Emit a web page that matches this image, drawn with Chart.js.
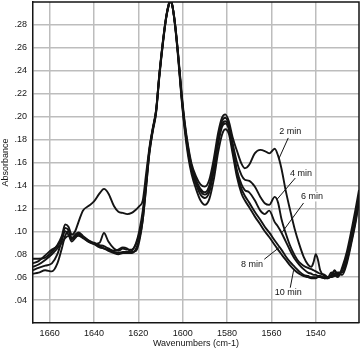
<!DOCTYPE html>
<html>
<head>
<meta charset="utf-8">
<script src="https://cdn.jsdelivr.net/npm/chart.js@4.4.1/dist/chart.umd.min.js"></script>
<style>
html,body{margin:0;padding:0;background:#fff;}
canvas{display:block;}
</style>
</head>
<body>
<canvas id="chart" width="360" height="352"></canvas>
<script>
// ---------------- Dados ----------------
const wavenumbers = [
  1667.5,1665,1662,1659,1656.5,1654.5,1653,1651.5,1650,1648.5,
  1647,1645,1642.5,1640,1637.5,1635.5,1633.5,1631,1629,1627,
  1625,1623,1621,1619.5,1618,1616.5,1615,1613.5,1612,1610.5,
  1609,1607.5,1606.3,1605.6,1604.8,1603.5,1602,1600.5,1599,1597.5,
  1596,1594,1592,1590,1588,1586,1584,1582.3,1580.8,1579.2,
  1577.5,1575.5,1573.5,1572,1570,1567.5,1565,1563,1561,1558.5,
  1557,1555.5,1553.5,1551.5,1549.5,1547.5,1545.5,1543.5,1542,1541,
  1540,1539,1538,1536,1534.5,1533,1531.5,1530,1528,1526,
  1524,1522,1520.5
];
const min2 = [
  0.076,0.076,0.077,0.082,0.088,0.096,0.106,0.104,0.097,0.100,
  0.108,0.118,0.122,0.126,0.133,0.137,0.133,0.122,0.117,0.116,
  0.115,0.116,0.119,0.122,0.127,0.150,0.173,0.190,0.206,0.238,
  0.265,0.287,0.298,0.301,0.298,0.282,0.254,0.221,0.194,0.174,
  0.159,0.148,0.141,0.139,0.145,0.163,0.186,0.199,0.202,0.196,
  0.182,0.170,0.159,0.155,0.158,0.168,0.171,0.170,0.168,0.172,
  0.166,0.155,0.135,0.118,0.102,0.089,0.078,0.071,0.069,0.073,
  0.080,0.075,0.066,0.061,0.059,0.062,0.065,0.061,0.067,0.078,
  0.096,0.116,0.132
];
const min4 = [
  0.072,0.074,0.079,0.084,0.087,0.094,0.103,0.101,0.094,0.096,
  0.098,0.095,0.091,0.089,0.090,0.0985,0.091,0.085,0.083,0.085,
  0.084,0.084,0.089,0.098,0.114,0.142,0.171,0.189,0.205,0.237,
  0.264,0.286,0.298,0.301,0.298,0.282,0.253,0.219,0.192,0.172,
  0.157,0.145,0.137,0.134,0.140,0.158,0.182,0.196,0.199,0.193,
  0.177,0.160,0.149,0.145,0.144,0.139,0.130,0.1245,0.123,0.130,
  0.125,0.111,0.098,0.087,0.079,0.073,0.070,0.068,0.067,0.066,
  0.065,0.064,0.063,0.062,0.060,0.060,0.063,0.064,0.064,0.074,
  0.091,0.110,0.128
];
const min6 = [
  0.069,0.071,0.075,0.080,0.085,0.090,0.094,0.096,0.094,0.097,
  0.099,0.096,0.092,0.089,0.086,0.085,0.084,0.082,0.081,0.082,
  0.082,0.083,0.090,0.101,0.118,0.143,0.171,0.189,0.205,0.237,
  0.264,0.286,0.298,0.301,0.298,0.281,0.252,0.218,0.191,0.170,
  0.155,0.143,0.135,0.132,0.137,0.155,0.179,0.193,0.196,0.191,
  0.174,0.153,0.141,0.136,0.134,0.127,0.118,0.115,0.118,0.108,
  0.104,0.099,0.091,0.083,0.076,0.071,0.067,0.064,0.063,0.062,
  0.062,0.061,0.061,0.060,0.060,0.064,0.062,0.060,0.069,0.082,
  0.100,0.120,0.136
];
const min8 = [
  0.066,0.068,0.070,0.072,0.080,0.092,0.100,0.097,0.091,0.094,
  0.097,0.095,0.092,0.090,0.088,0.087,0.085,0.083,0.084,0.086,
  0.085,0.082,0.083,0.092,0.110,0.139,0.169,0.188,0.204,0.236,
  0.263,0.286,0.297,0.301,0.298,0.281,0.252,0.217,0.189,0.168,
  0.153,0.141,0.132,0.129,0.134,0.152,0.176,0.191,0.194,0.189,
  0.172,0.150,0.137,0.131,0.125,0.117,0.110,0.104,0.099,0.092,
  0.088,0.084,0.078,0.073,0.069,0.065,0.062,0.061,0.060,0.060,
  0.060,0.060,0.060,0.059,0.059,0.061,0.066,0.062,0.066,0.078,
  0.095,0.114,0.131
];
const min10 = [
  0.063,0.064,0.066,0.065,0.072,0.085,0.096,0.100,0.093,0.095,
  0.096,0.094,0.091,0.089,0.087,0.085,0.083,0.081,0.080,0.081,
  0.081,0.081,0.085,0.094,0.110,0.138,0.168,0.187,0.203,0.235,
  0.262,0.285,0.297,0.301,0.298,0.280,0.250,0.215,0.187,0.165,
  0.150,0.137,0.127,0.123,0.128,0.145,0.169,0.184,0.189,0.185,
  0.168,0.147,0.133,0.127,0.121,0.113,0.106,0.100,0.095,0.088,
  0.084,0.080,0.075,0.070,0.066,0.063,0.061,0.060,0.059,0.059,
  0.059,0.060,0.060,0.059,0.060,0.060,0.061,0.063,0.062,0.072,
  0.089,0.108,0.126
];
const seriesNames = ["2 min","4 min","6 min","8 min","10 min"];
const seriesValues = [min2,min4,min6,min8,min10];

const xTicks = [1660,1640,1620,1600,1580,1560,1540];
const yTicks = [0.04,0.06,0.08,0.10,0.12,0.14,0.16,0.18,0.20,0.22,0.24,0.26,0.28];

// rótulos das curvas (em unidades dos eixos)
const labelWn  = [1551.5,1546.7,1541.7,1568.8,1552.4];
const labelAbs = [0.1873,0.1508,0.1304,0.0709,0.0462];
const leaderFrom = [[1552.4,0.1814],[1549.2,0.1465],[1545.5,0.1247],[1563.2,0.0756],[1551.5,0.0508]];
const leaderTo   = [[1556.7,0.163],[1557.4,0.128],[1555.2,0.099],[1556.4,0.086],[1550.0,0.066]];

// ---------------- Gráfico ----------------
const FONT = '"Liberation Sans",Arial,sans-serif';
const INK = "#141414";
const GRID = "#bdbdbd";

const datasets = seriesValues.map((vals,i)=>({
  label: seriesNames[i],
  data: vals.map((v,j)=>({x:wavenumbers[j], y:v})),
  borderColor: INK,
  borderWidth: 1.9,
  pointRadius: 0,
  fill: false,
  cubicInterpolationMode: "monotone"
}));

const extras = {
  id: "extras",
  afterDatasetsDraw(chart){
    const {ctx, chartArea:a, scales:{x,y}} = chart;
    ctx.save();
    // moldura superior e direita
    ctx.strokeStyle = INK; ctx.lineWidth = 1.5;
    ctx.beginPath();
    ctx.moveTo(a.left, a.top); ctx.lineTo(a.right, a.top); ctx.lineTo(a.right, a.bottom);
    ctx.stroke();
    // linhas de chamada
    ctx.lineWidth = 1;
    leaderFrom.forEach((p,i)=>{
      const q = leaderTo[i];
      ctx.beginPath();
      ctx.moveTo(x.getPixelForValue(p[0]), y.getPixelForValue(p[1]));
      ctx.lineTo(x.getPixelForValue(q[0]), y.getPixelForValue(q[1]));
      ctx.stroke();
    });
    // textos
    ctx.font = "9px " + FONT;
    ctx.textAlign = "center"; ctx.textBaseline = "middle";
    seriesNames.forEach((n,i)=>{
      const px = x.getPixelForValue(labelWn[i]), py = y.getPixelForValue(labelAbs[i]);
      const w = ctx.measureText(n).width;
      ctx.fillStyle = "#fff";
      ctx.fillRect(px - w/2 - 1, py - 5, w + 2, 10);
      ctx.fillStyle = INK;
      ctx.fillText(n, px, py);
    });
    ctx.restore();
  }
};

new Chart(document.getElementById("chart"), {
  type: "line",
  data: {datasets},
  options: {
    responsive: false,
    animation: false,
    layout: {padding: {top: 2, right: 1, left: 0, bottom: 0}},
    plugins: {legend: {display: false}, tooltip: {enabled: false}},
    scales: {
      x: {
        type: "linear", reverse: true, min: 1520.5, max: 1667.5,
        afterBuildTicks: s => { s.ticks = xTicks.map(v=>({value:v})); },
        afterFit: s => { s.height = 29; s.paddingLeft = 0; s.paddingRight = 0; },
        ticks: {font: {family: FONT, size: 9}, color: INK, padding: 5, maxRotation: 0, autoSkip: false, callback: v => String(v)},
        grid: {color: GRID, lineWidth: 1.5, drawTicks: false},
        border: {color: INK, width: 1.5},
        title: {display: true, text: "Wavenumbers (cm-1)", font: {family: FONT, size: 9}, color: INK, padding: {top: 0, bottom: 3}}
      },
      y: {
        type: "linear", min: 0.02, max: 0.30,
        afterBuildTicks: s => { s.ticks = yTicks.map(v=>({value:v})); },
        afterFit: s => { s.width = 33; s.paddingTop = 0; s.paddingBottom = 0; },
        ticks: {font: {family: FONT, size: 9}, color: INK, padding: 6, callback: v => v.toFixed(2).slice(1)},
        grid: {color: GRID, lineWidth: 1.5, drawTicks: false},
        border: {color: INK, width: 1.5},
        title: {display: true, text: "Absorbance", font: {family: FONT, size: 9}, color: INK, padding: 0}
      }
    }
  },
  plugins: [extras]
});
</script>
</body>
</html>
